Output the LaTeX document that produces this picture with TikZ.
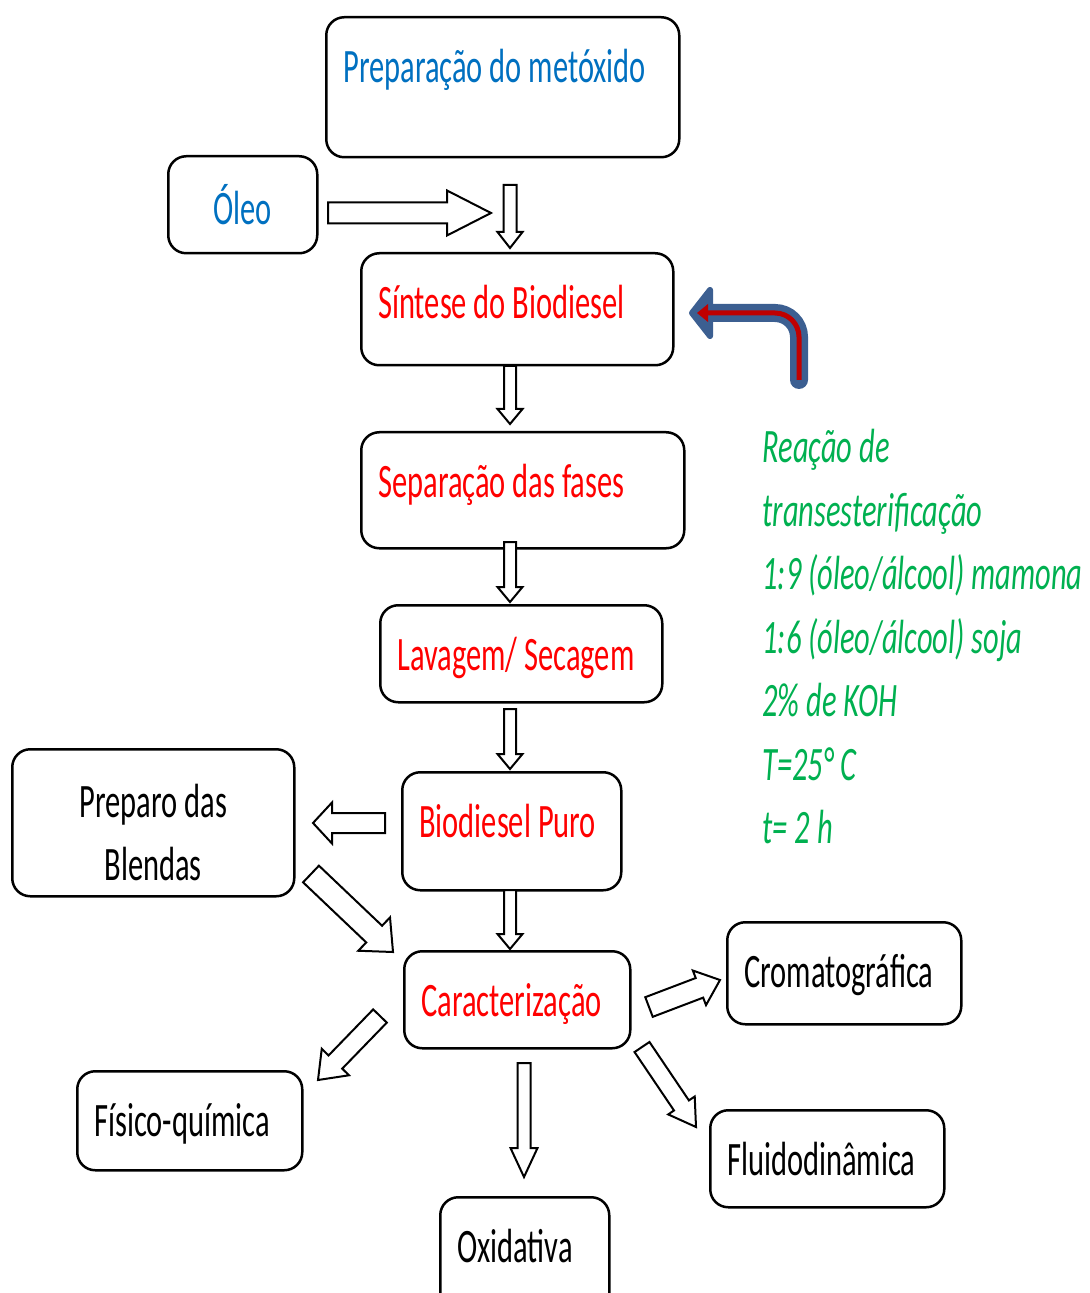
\documentclass[tikz,border=0pt]{standalone}
\usepackage{fontspec}
\usetikzlibrary{calc,positioning}
\newfontfamily\flowfont{Carlito}[FakeStretch=0.635]
\definecolor{txtblue}{RGB}{0,112,192}
\definecolor{txtgreen}{RGB}{0,176,80}
\definecolor{loopblue}{RGB}{60,95,145}
\definecolor{loopred}{RGB}{192,0,0}
% hollow block arrow: tail, tip, half shaft, half head, head length (px)
\newcommand{\blockarrow}[5]{%
  \coordinate (#1-base) at ($(#2)!#5*0.5pt!(#1)$);
  \draw[blockarrow] ($(#1)!#3*0.5pt!90:(#2)$) -- ($(#1-base)!#3*0.5pt!90:(#2)$)
    -- ($(#1-base)!#4*0.5pt!90:(#2)$) -- (#2)
    -- ($(#1-base)!#4*0.5pt!-90:(#2)$) -- ($(#1-base)!#3*0.5pt!-90:(#2)$)
    -- ($(#1)!#3*0.5pt!-90:(#2)$) -- cycle;}
\tikzset{
  box/.style={draw, rounded corners=9pt, line width=1.25pt, anchor=north west,
    inner xsep=8.5pt, inner ysep=0pt, text height=32.5pt, align=flush left,
    font=\flowfont\fontsize{24}{31.5}\selectfont},
  blockarrow/.style={draw=black, fill=white, line width=1pt, line join=miter},
  notes/.style={text=txtgreen, anchor=north west, inner sep=0pt, align=left,
    font=\flowfont\itshape\fontsize{24}{31.75}\selectfont}
}
\begin{document}
\begin{tikzpicture}[x=0.5pt, y=-0.5pt]
  \clip (0,0) rectangle (1089,1293);
  % process boxes
  \node[box, text=txtblue, text width=159.5pt, text depth=37.5pt] (metoxido) at (325,16) {Preparação do metóxido};
  \node[box, text=txtblue, text width=57.5pt, align=flush center, text height=34pt, text depth=14.5pt] (oleo) at (167,155) {Óleo};
  \node[box, text=red, text width=139pt, text depth=23.5pt] (sintese) at (360,252) {Síntese do Biodiesel};
  \node[box, text=red, text width=144.5pt, text depth=25.5pt] (separacao) at (360,431) {Separação das fases};
  \node[box, text=red, text width=124pt, text depth=16pt] (lavagem) at (379,604) {Lavagem/ Secagem};
  \node[box, text=red, text width=92.5pt, text depth=26.5pt] (puro) at (401,771) {Biodiesel Puro};
  \node[box, text width=124pt, align=flush center, text height=34pt, text depth=39.5pt] (blendas) at (11,748) {Preparo das\\Blendas};
  \node[box, text=red, text width=96pt, text depth=16pt] (caract) at (403,950) {Caracterização};
  \node[box, text width=100pt, text depth=18.5pt] (cromato) at (726,921) {Cromatográfica};
  \node[box, text width=95.5pt, text depth=17pt] (fisico) at (76,1070) {Físico-química};
  \node[box, text width=67.5pt, text depth=27.5pt] (oxid) at (439,1196) {Oxidativa};
  \node[box, text width=100pt, text depth=16pt] (fluido) at (709,1109) {Fluidodinâmica};
  % reaction conditions
  \node[notes] (condicoes) at (762,429) {Reação de\\transesterificação\\1:9 (óleo/álcool) mamona\\1:6 (óleo/álcool) soja\\2\% de KOH\\T=25° C\\t= 2 h};
  % arrow ends
  \coordinate (oleoT) at (328,213);  \coordinate (oleoH) at (491,213);
  \coordinate (metT) at (510,185);   \coordinate (metH) at (510,248);
  \coordinate (sinT) at (510,366);   \coordinate (sinH) at (510,424);
  \coordinate (sepT) at (510,542);   \coordinate (sepH) at (510,602);
  \coordinate (lavT) at (510,709);   \coordinate (lavH) at (510,769);
  \coordinate (purT) at (510,890);   \coordinate (purH) at (510,949);
  \coordinate (bleT) at (385,823);   \coordinate (bleH) at (313,823);
  \coordinate (diaT) at (311,874);   \coordinate (diaH) at (393,952);
  \coordinate (fisT) at (380,1016);  \coordinate (fisH) at (318,1080);
  \coordinate (croT) at (649,1007);  \coordinate (croH) at (720,980);
  \coordinate (fluT) at (642,1047);  \coordinate (fluH) at (696,1127);
  \coordinate (oxiT) at (524,1063);  \coordinate (oxiH) at (524,1177);
  \blockarrow{oleoT}{oleoH}{10.5}{22.5}{44}
  \blockarrow{metT}{metH}{6.5}{12.5}{16}
  \blockarrow{sinT}{sinH}{6}{12.5}{15}
  \blockarrow{sepT}{sepH}{6}{12.5}{15}
  \blockarrow{lavT}{lavH}{6}{12.5}{15}
  \blockarrow{purT}{purH}{6}{12.5}{15}
  \blockarrow{bleT}{bleH}{10}{20.5}{19}
  \blockarrow{diaT}{diaH}{11.5}{23}{26}
  \blockarrow{fisT}{fisH}{9.5}{19}{25}
  \blockarrow{croT}{croH}{10.5}{18.5}{22}
  \blockarrow{fluT}{fluH}{9}{16}{26}
  \blockarrow{oxiT}{oxiH}{6.5}{13.5}{29}
  % return arrow into the synthesis
  \coordinate (retA) at (799,380);
  \coordinate (retB) at (708,313);
  \coordinate (retTip) at (697,313);
  \draw[loopblue, line width=9pt, line cap=round, rounded corners=12pt] (retA) |- (retB);
  \filldraw[loopblue, line width=3pt, line join=round] (692,313) -- (710,290) -- (710,336) -- cycle;
  \draw[loopred, line width=2.5pt, rounded corners=12pt] (retA) |- (retB);
  \fill[loopred] (retTip) -- (708,304) -- (708,322) -- cycle;
\end{tikzpicture}
\end{document}
